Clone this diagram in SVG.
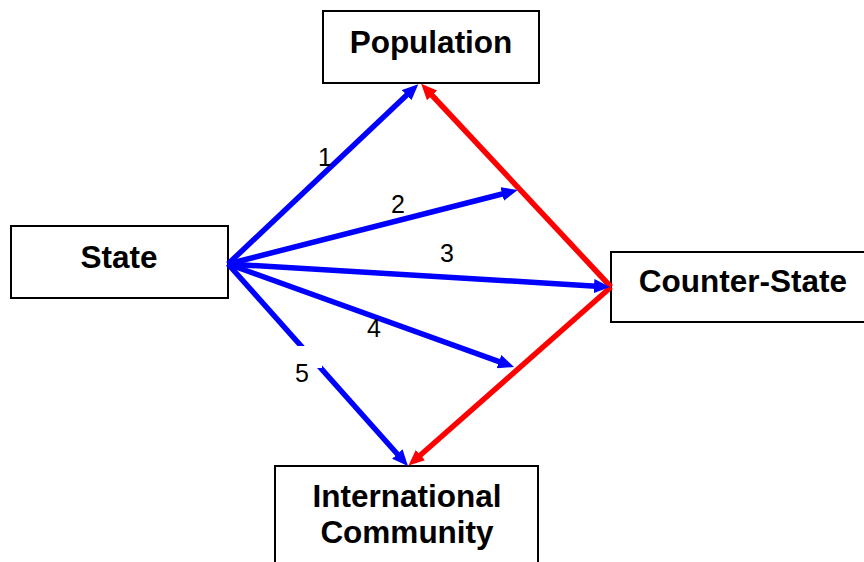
<svg xmlns="http://www.w3.org/2000/svg" width="864" height="562" viewBox="0 0 864 562">
<defs>
<style>
.box{fill:#fff;stroke:#000;stroke-width:2}
.nt{font-family:"Liberation Sans",Arial,sans-serif;font-weight:bold;font-size:31.5px;fill:#000;text-anchor:middle}
.lb{font-family:"Liberation Sans",Arial,sans-serif;font-size:25px;fill:#000;text-anchor:middle}
.blue{stroke:#0000ff;stroke-width:5.5;fill:none}
.red{stroke:#ff0000;stroke-width:5.5;fill:none}
</style>
<marker id="ab" viewBox="0 0 16 14" refX="6" refY="7" markerWidth="16" markerHeight="14" markerUnits="userSpaceOnUse" orient="auto"><path d="M0,0 L16,7 L0,14 z" fill="#0000ff"/></marker>
<marker id="ar" viewBox="0 0 16 14" refX="6" refY="7" markerWidth="16" markerHeight="14" markerUnits="userSpaceOnUse" orient="auto"><path d="M0,0 L16,7 L0,14 z" fill="#ff0000"/></marker>
</defs>
<rect width="864" height="562" fill="#fff"/>
<g id="population"><rect class="box" x="323" y="11" width="216" height="72"/><text class="nt" x="431" y="53">Population</text></g>
<g id="state"><rect class="box" x="11" y="226" width="217" height="72"/><text class="nt" x="119" y="268">State</text></g>
<g id="counter-state"><rect class="box" x="611" y="252" width="260" height="70"/><text class="nt" x="743" y="292">Counter-State</text></g>
<g id="international-community"><rect class="box" x="275" y="466" width="263" height="110"/><text class="nt" x="407" y="507">International</text><text class="nt" x="407" y="543">Community</text></g>
<g id="connectors">
<line class="red" x1="611" y1="287" x2="428" y2="91" marker-end="url(#ar)"/>
<line class="red" x1="611" y1="287" x2="416" y2="459" marker-end="url(#ar)"/>
<line class="blue" x1="228" y1="264" x2="411" y2="91" marker-end="url(#ab)"/>
<line class="blue" x1="228" y1="264" x2="508" y2="192.5" marker-end="url(#ab)"/>
<line class="blue" x1="228" y1="264" x2="600" y2="286.4" marker-end="url(#ab)"/>
<line class="blue" x1="228" y1="264" x2="504.6" y2="363.6" marker-end="url(#ab)"/>
<line class="blue" x1="228" y1="264" x2="401.3" y2="458.5" marker-end="url(#ab)"/>
<rect x="286" y="346" width="36" height="22" fill="#fff"/>
<text class="lb" x="325" y="166">1</text>
<text class="lb" x="398" y="213">2</text>
<text class="lb" x="447" y="262">3</text>
<text class="lb" x="374" y="337">4</text>
<text class="lb" x="302" y="382">5</text>
</g>
</svg>
